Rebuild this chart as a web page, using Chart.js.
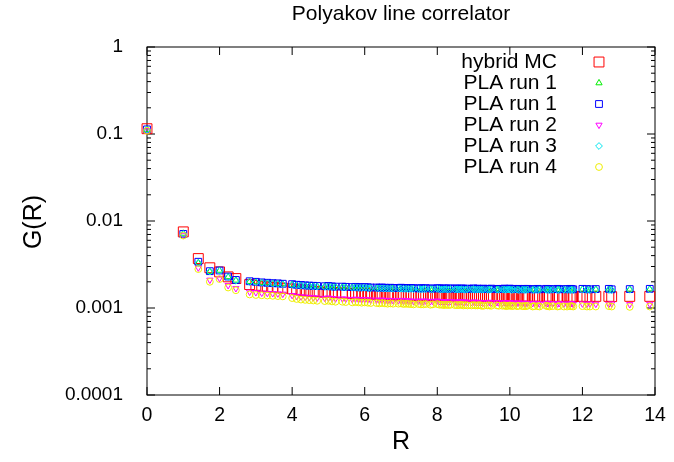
<!DOCTYPE html>
<html lang="en">
<head>
    <meta charset="UTF-8">
    <title>Polyakov line correlator</title>
    <script src="https://cdn.jsdelivr.net/npm/chart.js@4.4.1/dist/chart.umd.min.js"></script>
    <style>
        body { margin: 0; background: #fff; }
        #chart { display: block; }
    </style>
</head>
<body>
    <canvas id="chart" width="674" height="462"></canvas>

    <script>
        // distances R on the lattice
        const rValues = [
            0, 1, 1.414, 1.732, 2, 2.236, 2.449, 2.828, 3, 3.162,
            3.317, 3.464, 3.606, 3.742, 4, 4.123, 4.243, 4.359, 4.472, 4.583,
            4.690, 4.899, 5, 5.099, 5.196, 5.385, 5.477, 5.657, 5.745, 5.831,
            5.916, 6, 6.083, 6.164, 6.325, 6.403, 6.481, 6.557, 6.633, 6.708,
            6.782, 6.928, 7, 7.071, 7.141, 7.211, 7.280, 7.348, 7.483, 7.550,
            7.616, 7.681, 7.810, 7.874, 8, 8.062, 8.124, 8.185, 8.246, 8.307,
            8.367, 8.485, 8.544, 8.602, 8.660, 8.718, 8.775, 8.832, 8.944, 9,
            9.055, 9.110, 9.165, 9.220, 9.274, 9.381, 9.434, 9.487, 9.644, 9.695,
            9.798, 9.849, 9.899, 9.950, 10, 10.050, 10.100, 10.198, 10.247, 10.344,
            10.392, 10.440, 10.488, 10.630, 10.677, 10.770, 10.817, 11, 11.045, 11.091,
            11.180, 11.314, 11.358, 11.489, 11.576, 11.662, 11.705, 11.747, 12, 12.124,
            12.207, 12.369, 12.728, 12.806, 13.304, 13.856
        ];

        const hybridMC = [
            0.115, 0.0075, 0.0037, 0.0029, 0.0026, 0.00228, 0.00218, 0.00186, 0.00182, 0.00178,
            0.00176, 0.00173, 0.00171, 0.00169, 0.00166, 0.00162, 0.00160, 0.00158, 0.00156, 0.00155,
            0.00154, 0.00152, 0.00153, 0.00151, 0.00150, 0.00149, 0.00148, 0.00147, 0.00146, 0.00146,
            0.00145, 0.00146, 0.00144, 0.00144, 0.00143, 0.00142, 0.00143, 0.00141, 0.00142, 0.00141,
            0.00140, 0.00141, 0.00141, 0.00140, 0.00139, 0.00140, 0.00139, 0.00140, 0.00139, 0.00138,
            0.00139, 0.00138, 0.00139, 0.00138, 0.00140, 0.00138, 0.00137, 0.00138, 0.00138, 0.00137,
            0.00138, 0.00137, 0.00138, 0.00137, 0.00138, 0.00137, 0.00136, 0.00138, 0.00137, 0.00138,
            0.00136, 0.00137, 0.00137, 0.00136, 0.00137, 0.00136, 0.00137, 0.00136, 0.00136, 0.00137,
            0.00136, 0.00137, 0.00136, 0.00136, 0.00137, 0.00135, 0.00136, 0.00136, 0.00135, 0.00136,
            0.00136, 0.00135, 0.00136, 0.00135, 0.00136, 0.00135, 0.00136, 0.00136, 0.00135, 0.00135,
            0.00136, 0.00135, 0.00135, 0.00136, 0.00135, 0.00136, 0.00135, 0.00135, 0.00136, 0.00135,
            0.00135, 0.00136, 0.00136, 0.00135, 0.00136, 0.00136
        ];

        const plaRun1a = [
            0.112, 0.0072, 0.0033, 0.00262, 0.0027, 0.00228, 0.00208, 0.00201, 0.00199, 0.00196,
            0.00194, 0.00192, 0.00190, 0.00189, 0.00186, 0.00184, 0.00182, 0.00181, 0.00180, 0.00178,
            0.00178, 0.00177, 0.00177, 0.00176, 0.00175, 0.00174, 0.00174, 0.00173, 0.00173, 0.00172,
            0.00172, 0.00173, 0.00171, 0.00171, 0.00170, 0.00170, 0.00171, 0.00169, 0.00169, 0.00170,
            0.00168, 0.00169, 0.00169, 0.00168, 0.00168, 0.00167, 0.00168, 0.00167, 0.00168, 0.00166,
            0.00167, 0.00167, 0.00166, 0.00166, 0.00168, 0.00166, 0.00165, 0.00166, 0.00166, 0.00165,
            0.00166, 0.00165, 0.00166, 0.00165, 0.00166, 0.00165, 0.00164, 0.00166, 0.00165, 0.00166,
            0.00164, 0.00165, 0.00165, 0.00164, 0.00165, 0.00164, 0.00164, 0.00165, 0.00164, 0.00164,
            0.00165, 0.00164, 0.00164, 0.00165, 0.00165, 0.00163, 0.00164, 0.00164, 0.00163, 0.00164,
            0.00164, 0.00163, 0.00164, 0.00163, 0.00164, 0.00163, 0.00164, 0.00164, 0.00163, 0.00163,
            0.00164, 0.00163, 0.00163, 0.00164, 0.00163, 0.00163, 0.00164, 0.00163, 0.00164, 0.00163,
            0.00163, 0.00164, 0.00164, 0.00163, 0.00164, 0.00165
        ];

        const plaRun1b = [
            0.113, 0.0071, 0.0034, 0.00265, 0.0027, 0.0023, 0.0021, 0.00203, 0.00200, 0.00197,
            0.00195, 0.00193, 0.00192, 0.00190, 0.00188, 0.00185, 0.00184, 0.00182, 0.00181, 0.00180,
            0.00179, 0.00178, 0.00179, 0.00177, 0.00176, 0.00176, 0.00175, 0.00174, 0.00175, 0.00173,
            0.00174, 0.00174, 0.00173, 0.00172, 0.00172, 0.00171, 0.00172, 0.00171, 0.00170, 0.00171,
            0.00170, 0.00170, 0.00171, 0.00169, 0.00170, 0.00169, 0.00170, 0.00169, 0.00168, 0.00169,
            0.00168, 0.00169, 0.00168, 0.00167, 0.00169, 0.00168, 0.00167, 0.00168, 0.00167, 0.00168,
            0.00167, 0.00168, 0.00167, 0.00166, 0.00168, 0.00167, 0.00166, 0.00167, 0.00166, 0.00168,
            0.00166, 0.00167, 0.00166, 0.00165, 0.00167, 0.00166, 0.00165, 0.00167, 0.00166, 0.00165,
            0.00166, 0.00167, 0.00165, 0.00166, 0.00167, 0.00165, 0.00166, 0.00165, 0.00166, 0.00164,
            0.00166, 0.00165, 0.00166, 0.00164, 0.00165, 0.00166, 0.00164, 0.00166, 0.00165, 0.00164,
            0.00165, 0.00166, 0.00164, 0.00165, 0.00164, 0.00166, 0.00165, 0.00164, 0.00166, 0.00165,
            0.00164, 0.00165, 0.00166, 0.00164, 0.00165, 0.00166
        ];

        const plaRun2 = [
            0.110, 0.0069, 0.0029, 0.0021, 0.0022, 0.00182, 0.00168, 0.00153, 0.00151, 0.00149,
            0.00148, 0.00147, 0.00146, 0.00145, 0.00140, 0.00137, 0.00135, 0.00134, 0.00133, 0.00132,
            0.00131, 0.00130, 0.00131, 0.00129, 0.00128, 0.00128, 0.00127, 0.00126, 0.00127, 0.00126,
            0.00125, 0.00126, 0.00125, 0.00124, 0.00124, 0.00123, 0.00124, 0.00123, 0.00122, 0.00123,
            0.00122, 0.00122, 0.00123, 0.00121, 0.00122, 0.00121, 0.00121, 0.00120, 0.00121, 0.00120,
            0.00120, 0.00121, 0.00119, 0.00120, 0.00121, 0.00119, 0.00119, 0.00118, 0.00119, 0.00118,
            0.00119, 0.00118, 0.00117, 0.00118, 0.00119, 0.00117, 0.00118, 0.00117, 0.00116, 0.00118,
            0.00117, 0.00116, 0.00117, 0.00116, 0.00115, 0.00116, 0.00117, 0.00115, 0.00116, 0.00115,
            0.00115, 0.00116, 0.00114, 0.00115, 0.00116, 0.00114, 0.00115, 0.00114, 0.00115, 0.00114,
            0.00114, 0.00113, 0.00114, 0.00113, 0.00114, 0.00113, 0.00112, 0.00114, 0.00113, 0.00112,
            0.00113, 0.00112, 0.00113, 0.00112, 0.00111, 0.00112, 0.00113, 0.00111, 0.00112, 0.00111,
            0.00112, 0.00111, 0.00111, 0.00112, 0.00110, 0.00111
        ];

        const plaRun3 = [
            0.112, 0.0071, 0.0033, 0.00262, 0.00268, 0.00226, 0.00206, 0.00199, 0.00197, 0.00194,
            0.00192, 0.00190, 0.00189, 0.00187, 0.00184, 0.00182, 0.00180, 0.00179, 0.00178, 0.00176,
            0.00176, 0.00175, 0.00175, 0.00174, 0.00173, 0.00172, 0.00172, 0.00171, 0.00171, 0.00170,
            0.00170, 0.00171, 0.00169, 0.00169, 0.00168, 0.00168, 0.00168, 0.00167, 0.00167, 0.00167,
            0.00166, 0.00167, 0.00167, 0.00166, 0.00166, 0.00165, 0.00166, 0.00165, 0.00165, 0.00164,
            0.00165, 0.00165, 0.00164, 0.00164, 0.00166, 0.00164, 0.00163, 0.00164, 0.00164, 0.00163,
            0.00164, 0.00163, 0.00164, 0.00163, 0.00164, 0.00163, 0.00162, 0.00164, 0.00163, 0.00164,
            0.00162, 0.00163, 0.00163, 0.00162, 0.00163, 0.00162, 0.00162, 0.00163, 0.00162, 0.00162,
            0.00163, 0.00162, 0.00162, 0.00163, 0.00163, 0.00161, 0.00162, 0.00162, 0.00161, 0.00162,
            0.00162, 0.00161, 0.00162, 0.00161, 0.00162, 0.00161, 0.00162, 0.00162, 0.00161, 0.00161,
            0.00162, 0.00161, 0.00161, 0.00162, 0.00161, 0.00161, 0.00162, 0.00161, 0.00162, 0.00161,
            0.00161, 0.00162, 0.00162, 0.00161, 0.00162, 0.00163
        ];

        const plaRun4 = [
            0.109, 0.0068, 0.0028, 0.0020, 0.00215, 0.00172, 0.00160, 0.00143, 0.00141, 0.00140,
            0.00139, 0.00138, 0.00137, 0.00136, 0.00130, 0.00127, 0.00125, 0.00124, 0.00123, 0.00122,
            0.00121, 0.00120, 0.00121, 0.00119, 0.00118, 0.00118, 0.00117, 0.00116, 0.00117, 0.00116,
            0.00115, 0.00116, 0.00115, 0.00114, 0.00114, 0.00113, 0.00114, 0.00113, 0.00112, 0.00113,
            0.00112, 0.00112, 0.00113, 0.00111, 0.00112, 0.00111, 0.00111, 0.00110, 0.00111, 0.00110,
            0.00110, 0.00111, 0.00109, 0.00110, 0.00111, 0.00109, 0.00109, 0.00108, 0.00109, 0.00108,
            0.00109, 0.00108, 0.00108, 0.00108, 0.00109, 0.00107, 0.00108, 0.00107, 0.00107, 0.00108,
            0.00107, 0.00107, 0.00108, 0.00106, 0.00106, 0.00107, 0.00107, 0.00106, 0.00107, 0.00106,
            0.00106, 0.00107, 0.00105, 0.00106, 0.00107, 0.00105, 0.00106, 0.00105, 0.00106, 0.00105,
            0.00105, 0.00105, 0.00106, 0.00104, 0.00105, 0.00105, 0.00104, 0.00106, 0.00105, 0.00104,
            0.00105, 0.00104, 0.00105, 0.00104, 0.00104, 0.00105, 0.00105, 0.00104, 0.00105, 0.00104,
            0.00104, 0.00104, 0.00105, 0.00104, 0.00103, 0.00104
        ];

        const xTicks = [0, 2, 4, 6, 8, 10, 12, 14];
        const yTicks = [0.0001, 0.001, 0.01, 0.1, 1];

        const FONT = 'Liberation Sans, Arial, sans-serif';
        Chart.defaults.font.family = FONT;

        function series(label, values, color, style, radius, rotation, order) {
            return {
                label: label,
                data: rValues.map((r, i) => ({ x: r, y: values[i] })),
                showLine: false,
                pointStyle: style,
                pointRadius: radius,
                pointRotation: rotation,
                pointBorderColor: color,
                pointBackgroundColor: 'rgba(0,0,0,0)',
                pointBorderWidth: 1,
                borderColor: color,
                backgroundColor: 'rgba(0,0,0,0)',
                clip: false,
                order: order
            };
        }

        // gnuplot-like frame with inward ticks on all four sides
        const framePlugin = {
            id: 'frame',
            beforeDatasetsDraw(chart) {
                const { ctx, chartArea: a, scales } = chart;
                ctx.save();
                ctx.strokeStyle = '#000';
                ctx.lineWidth = 1;
                ctx.strokeRect(a.left, a.top, a.right - a.left, a.bottom - a.top);
                ctx.beginPath();
                xTicks.forEach(v => {
                    const px = scales.x.getPixelForValue(v);
                    ctx.moveTo(px, a.bottom); ctx.lineTo(px, a.bottom - 8);
                    ctx.moveTo(px, a.top); ctx.lineTo(px, a.top + 8);
                });
                yTicks.forEach((v, k) => {
                    const py = scales.y.getPixelForValue(v);
                    ctx.moveTo(a.left, py); ctx.lineTo(a.left + 8, py);
                    ctx.moveTo(a.right, py); ctx.lineTo(a.right - 8, py);
                    if (k < yTicks.length - 1) {
                        for (let m = 2; m <= 9; m++) {
                            const pm = scales.y.getPixelForValue(v * m);
                            ctx.moveTo(a.left, pm); ctx.lineTo(a.left + 4, pm);
                            ctx.moveTo(a.right, pm); ctx.lineTo(a.right - 4, pm);
                        }
                    }
                });
                ctx.stroke();
                ctx.restore();
            },
            afterDraw(chart) {
                const { ctx, chartArea: a } = chart;
                ctx.save();
                ctx.fillStyle = '#000';
                ctx.textBaseline = 'middle';

                // title
                ctx.font = '21px ' + FONT;
                ctx.textAlign = 'center';
                ctx.fillText('Polyakov line correlator', (a.left + a.right) / 2, 14);

                // axis titles
                ctx.font = '25px ' + FONT;
                ctx.fillText('R', (a.left + a.right) / 2, 442);
                ctx.save();
                ctx.translate(34, 222);
                ctx.rotate(-Math.PI / 2);
                ctx.fillText('G(R)', 0, 0);
                ctx.restore();

                // key, text right-aligned with the symbol to its right
                ctx.font = '21px ' + FONT;
                chart.data.datasets.forEach((ds, i) => {
                    const y = 62 + i * 21;
                    ctx.textAlign = 'right';
                    ctx.fillStyle = '#000';
                    ctx.fillText(ds.label, 557, y);
                    ctx.strokeStyle = ds.pointBorderColor;
                    ctx.fillStyle = 'rgba(0,0,0,0)';
                    ctx.lineWidth = 1;
                    Chart.helpers.drawPoint(ctx, {
                        pointStyle: ds.pointStyle,
                        radius: ds.pointRadius,
                        rotation: ds.pointRotation,
                        borderWidth: 1
                    }, 599, y);
                });
                ctx.restore();
            }
        };

        new Chart(document.getElementById('chart'), {
            type: 'scatter',
            data: {
                datasets: [
                    series('hybrid MC', hybridMC, '#ff0000', 'rect', 7, 0, 6),
                    series('PLA run 1', plaRun1a, '#00ee00', 'triangle', 3.6, 0, 5),
                    series('PLA run 1', plaRun1b, '#0000ff', 'rect', 4.8, 0, 4),
                    series('PLA run 2', plaRun2, '#ff00ff', 'triangle', 3.6, 180, 3),
                    series('PLA run 3', plaRun3, '#00e5ee', 'rectRot', 3.4, 0, 2),
                    series('PLA run 4', plaRun4, '#eeee00', 'circle', 3.4, 0, 1)
                ]
            },
            options: {
                responsive: false,
                animation: false,
                devicePixelRatio: 1,
                layout: { padding: { top: 47, right: 19, left: 0, bottom: 0 } },
                plugins: {
                    legend: { display: false },
                    title: { display: false },
                    tooltip: { enabled: false }
                },
                scales: {
                    x: {
                        type: 'linear',
                        min: 0,
                        max: 14,
                        grid: { display: false },
                        border: { display: false },
                        afterBuildTicks: s => { s.ticks = xTicks.map(v => ({ value: v })); },
                        afterFit: s => { s.height = 67; },
                        ticks: {
                            color: '#000',
                            padding: 1,
                            maxRotation: 0,
                            font: { size: 19.5 }
                        }
                    },
                    y: {
                        type: 'logarithmic',
                        min: 0.0001,
                        max: 1,
                        grid: { display: false },
                        border: { display: false },
                        afterBuildTicks: s => { s.ticks = yTicks.map(v => ({ value: v })); },
                        afterFit: s => { s.width = 147; },
                        ticks: {
                            color: '#000',
                            padding: 16,
                            font: { size: 19 },
                            callback: v => String(v)
                        }
                    }
                }
            },
            plugins: [framePlugin]
        });
    </script>
</body>
</html>
